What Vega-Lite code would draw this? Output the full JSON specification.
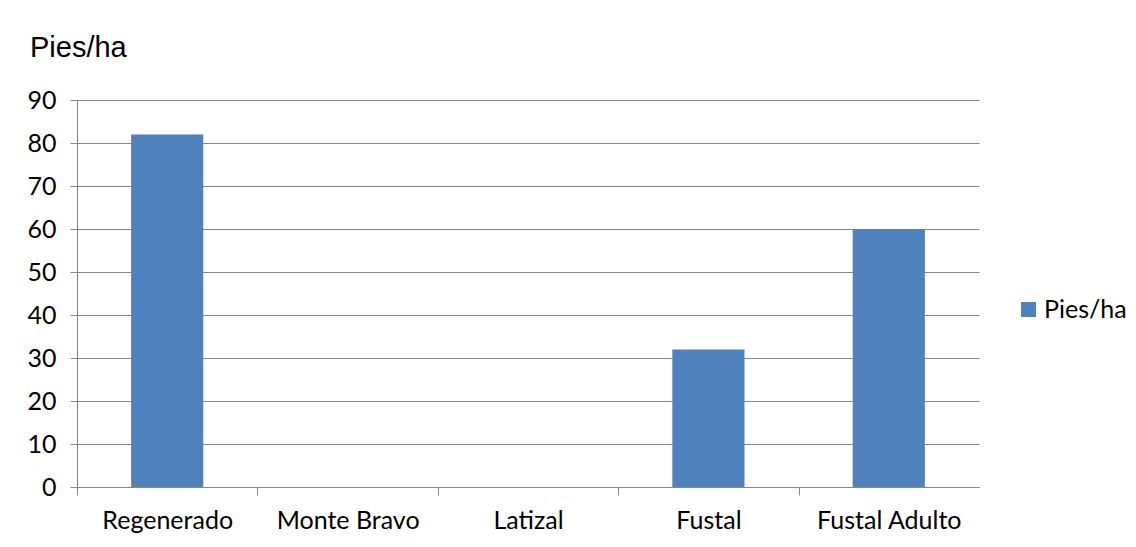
{
  "$schema": "https://vega.github.io/schema/vega-lite/v6.json",
  "autosize": "none",
  "width": 902,
  "height": 387,
  "padding": {"left": 77, "top": 100, "right": 157, "bottom": 60},
  "background": "white",
  "title": {
    "text": "Pies/ha",
    "anchor": "start",
    "frame": "group",
    "orient": "top",
    "font": "Liberation Sans",
    "fontSize": 29,
    "fontWeight": "normal",
    "color": "#000000",
    "dx": -47,
    "offset": 25
  },
  "data": {
    "values": [
      {"clase": "Regenerado", "valor": 82, "serie": "Pies/ha"},
      {"clase": "Monte Bravo", "valor": 0, "serie": "Pies/ha"},
      {"clase": "Latizal", "valor": 0, "serie": "Pies/ha"},
      {"clase": "Fustal", "valor": 32, "serie": "Pies/ha"},
      {"clase": "Fustal Adulto", "valor": 60, "serie": "Pies/ha"}
    ]
  },
  "config": {
    "view": {"stroke": null},
    "font": "Lato"
  },
  "mark": {"type": "bar"},
  "encoding": {
    "x": {
      "field": "clase",
      "type": "nominal",
      "sort": null,
      "scale": {"paddingInner": 0.6, "paddingOuter": 0.3},
      "axis": {
        "title": null,
        "labelAngle": 0,
        "labelFont": "Lato",
        "labelFontSize": 25,
        "labelColor": "#000000",
        "labelPadding": 13,
        "labelOffset": 90.2,
        "domainColor": "#868686",
        "domainWidth": 1,
        "tickColor": "#868686",
        "tickSize": 8,
        "tickOffset": -90.2,
        "grid": false
      }
    },
    "y": {
      "field": "valor",
      "type": "quantitative",
      "scale": {"domain": [0, 90], "nice": false},
      "axis": {
        "title": null,
        "values": [0, 10, 20, 30, 40, 50, 60, 70, 80, 90],
        "labelFont": "Lato",
        "labelFontSize": 25,
        "labelColor": "#000000",
        "labelPadding": 14,
        "domainColor": "#868686",
        "tickColor": "#868686",
        "tickSize": 7,
        "gridColor": "#868686",
        "gridWidth": 1
      }
    },
    "color": {
      "field": "serie",
      "type": "nominal",
      "scale": {"range": ["#4F81BD"]},
      "legend": {
        "title": null,
        "orient": "none",
        "legendX": 939,
        "legendY": 197,
        "symbolType": "square",
        "symbolSize": 225,
        "symbolStrokeWidth": 0,
        "symbolOpacity": 1,
        "labelFont": "Lato",
        "labelFontSize": 25,
        "labelColor": "#000000",
        "labelOffset": 3
      }
    }
  }
}
